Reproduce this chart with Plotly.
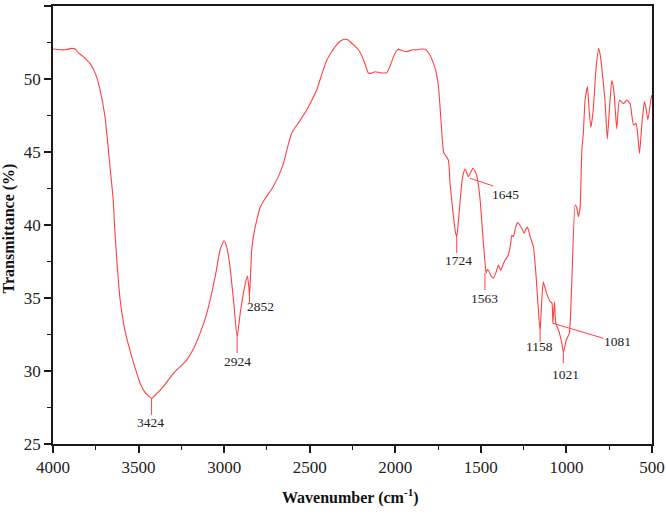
import plotly.graph_objects as go

wavenumber = [4000, 3960, 3930, 3891, 3870, 3852, 3820, 3784, 3750, 3725, 3696, 3667, 3648, 3638, 3620,
              3608, 3580, 3550, 3520, 3492, 3460, 3424, 3390, 3355, 3297, 3219, 3180, 3141, 3110, 3082,
              3050, 3024, 3001, 2985, 2966, 2945, 2924, 2910, 2903, 2880, 2864, 2856, 2852, 2845, 2839,
              2825, 2810, 2790, 2761, 2720, 2680, 2654, 2630, 2605, 2560, 2517, 2490, 2459, 2430, 2400,
              2375, 2352, 2330, 2303, 2280, 2264, 2240, 2215, 2185, 2157, 2140, 2118, 2089, 2050, 2030,
              2011, 1995, 1982, 1960, 1933, 1900, 1874, 1850, 1826, 1800, 1777, 1760, 1748, 1738, 1728,
              1718, 1709, 1690, 1680, 1670, 1660, 1650, 1641, 1630, 1621, 1610, 1602, 1592, 1583, 1573,
              1560, 1547, 1535, 1524, 1514, 1504, 1495, 1485, 1476, 1469, 1462, 1456, 1440, 1427, 1410,
              1397, 1384, 1370, 1358, 1339, 1325, 1319, 1310, 1298, 1286, 1272, 1261, 1247, 1238, 1228,
              1220, 1212, 1193, 1177, 1164, 1154, 1148, 1140, 1135, 1125, 1115, 1095, 1085, 1079, 1070,
              1062, 1046, 1027, 1018, 1010, 1002, 983, 969, 949, 940, 930, 920, 910, 901, 891,
              877, 868, 858, 850, 842, 826, 811, 802, 794, 775, 761, 749, 735, 728, 721,
              706, 690, 667, 647, 628, 608, 593, 582, 573, 559, 544, 535, 524, 507, 501]
transmittance = [52.05, 52.0, 52.0, 52.1, 52.05, 51.8, 51.5, 51.07, 50.3, 49.25, 47.4, 44.0, 41.7, 39.45, 36.5,
                 34.9, 32.8, 31.4, 30.2, 29.2, 28.5, 28.13, 28.5, 28.93, 29.84, 30.75, 31.5, 32.58, 33.6, 34.86,
                 36.6, 38.29, 38.92, 38.5, 37.15, 34.8, 32.3, 33.6, 34.2, 35.8, 36.5, 35.8, 35.1, 36.8, 38.3,
                 39.5, 40.3, 41.2, 41.8, 42.5, 43.4, 44.2, 45.3, 46.3, 47.1, 47.9, 48.5, 49.25, 50.3, 51.3,
                 51.8, 52.2, 52.5, 52.7, 52.7, 52.55, 52.3, 52.0, 51.3, 50.4, 50.4, 50.5, 50.43, 50.43, 50.9,
                 51.5, 51.9, 52.03, 51.95, 51.87, 52.0, 52.0, 52.05, 52.03, 51.7, 51.07, 50.4, 49.5, 48.0, 46.3,
                 45.0, 44.8, 44.45, 42.85, 41.7, 40.57, 39.6, 39.2, 40.4, 41.7, 43.0, 43.54, 43.84, 43.6, 43.3,
                 43.6, 43.88, 43.7, 43.4, 42.7, 41.7, 40.3, 38.75, 37.5, 36.7, 36.95, 36.9, 36.5, 36.35, 36.8,
                 37.26, 36.9, 37.3, 37.6, 37.95, 38.8, 39.3, 39.2, 39.8, 40.16, 40.0, 39.77, 39.43, 39.7, 39.84,
                 39.6, 39.2, 38.51, 36.46, 34.18, 32.7, 34.0, 35.6, 36.1, 35.7, 35.3, 34.75, 34.68, 33.27, 34.75,
                 33.27, 32.8, 31.9, 31.3, 31.6, 32.1, 32.6, 36.0, 41.37, 41.2, 40.57, 41.25, 45.1, 46.3, 48.56,
                 49.47, 48.0, 46.7, 47.2, 48.1, 50.85, 52.1, 51.6, 50.85, 48.56, 45.9, 47.9, 49.9, 49.6, 49.0,
                 46.6, 48.56, 48.3, 48.56, 48.3, 46.85, 46.96, 46.0, 44.9, 46.96, 48.45, 48.0, 47.2, 48.56, 48.9]

# peak labels: text, leader line start (x0,y0) -> end (x1,y1), label position (lx,ly)
peak_text = ["3424", "2924", "2852", "1724", "1645", "1563", "1158", "1081", "1021"]
peak_x0 = [3424, 2924, 2852, 1641, 1563, 1476, 1154, 1080, 1018]
peak_y0 = [28.13, 32.3, 35.4, 39.2, 43.2, 36.7, 32.7, 33.27, 31.3]
peak_x1 = [3424, 2924, 2852, 1641, 1427, 1476, 1154, 784, 1018]
peak_y1 = [27.0, 31.23, 34.66, 38.08, 42.67, 35.55, 32.0, 32.24, 30.53]
label_x = [3428, 2920, 2790, 1632, 1356, 1476, 1160, 700, 1008]
label_y = [26.5, 30.64, 34.4, 37.55, 42.1, 34.98, 31.66, 32.05, 29.73]

x_ticks = [4000, 3500, 3000, 2500, 2000, 1500, 1000, 500]
y_ticks = [25, 30, 35, 40, 45, 50, 55]

RED = "#ff4040"
AX = "#1a1a1a"
SERIF = "Liberation Serif, Times New Roman, serif"

fig = go.Figure()
fig.add_trace(go.Scatter(x=wavenumber, y=transmittance, mode="lines",
                         line=dict(color=RED, width=1.1, shape="spline", smoothing=0.5),
                         showlegend=False, hoverinfo="skip"))

for t, x0, y0, x1, y1, lx, ly in zip(peak_text, peak_x0, peak_y0, peak_x1, peak_y1, label_x, label_y):
    fig.add_shape(type="line", x0=x0, y0=y0, x1=x1, y1=y1, xref="x", yref="y",
                  line=dict(color=RED, width=1))
    fig.add_annotation(x=lx, y=ly, text=t, showarrow=False, xref="x", yref="y",
                       font=dict(family=SERIF, size=13.5, color="#222"),
                       xanchor="center", yanchor="middle")

fig.add_annotation(x=-0.0735, y=0.492, xref="paper", yref="paper", text="<b>Transmittance (%)</b>",
                   textangle=-90, showarrow=False, font=dict(family=SERIF, size=16, color="#111"),
                   xanchor="center", yanchor="middle")
fig.add_annotation(x=0.496, y=-0.121, xref="paper", yref="paper",
                   text="<b>Wavenumber (cm<sup>-1</sup>)</b>",
                   showarrow=False, font=dict(family=SERIF, size=16, color="#111"),
                   xanchor="center", yanchor="middle")

fig.update_layout(
    width=666, height=518,
    margin=dict(l=53, r=14, t=6, b=74, autoexpand=False),
    plot_bgcolor="white", paper_bgcolor="white",
    xaxis=dict(range=[4000, 500], tickvals=x_ticks, ticktext=[str(v) for v in x_ticks], automargin=False,
               showgrid=False, zeroline=False, showline=True, linecolor=AX, linewidth=1.6, mirror=True,
               ticks="outside", ticklen=7, tickwidth=1.5, tickcolor=AX,
               minor=dict(dtick=250, tick0=500, ticks="outside", ticklen=4, tickwidth=1.2, tickcolor=AX),
               tickfont=dict(family=SERIF, size=17, color="#222")),
    yaxis=dict(range=[25, 55], tickvals=y_ticks, ticktext=[str(v) for v in y_ticks], automargin=False,
               showgrid=False, zeroline=False, showline=True, linecolor=AX, linewidth=1.6, mirror=True,
               ticks="outside", ticklen=7, tickwidth=1.5, tickcolor=AX,
               minor=dict(dtick=2.5, tick0=25, ticks="outside", ticklen=4, tickwidth=1.2, tickcolor=AX),
               tickfont=dict(family=SERIF, size=17, color="#222")),
)

fig.write_html("out.html", config={"displayModeBar": False},
               post_script="document.body.style.margin='0';document.body.style.overflow='hidden';")
